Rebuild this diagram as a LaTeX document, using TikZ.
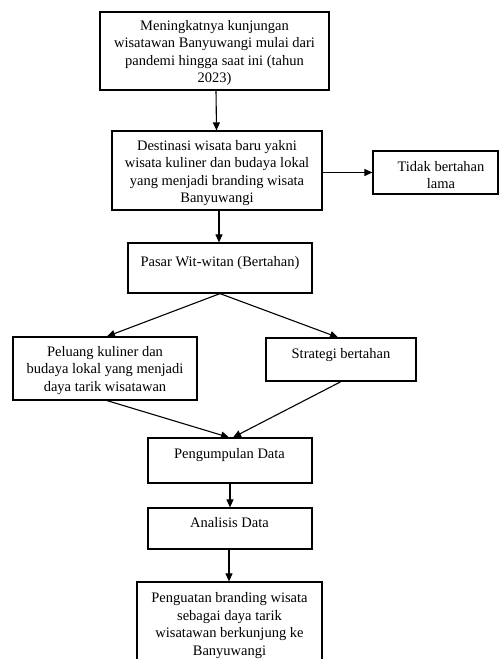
\documentclass[tikz,border=0pt]{standalone}
\usepackage{fontspec}
\setmainfont{Liberation Serif}
\usetikzlibrary{arrows.meta}
\begin{document}
\begin{tikzpicture}[x=1pt,y=-1pt,
  box/.style={draw,line width=1.2pt,inner sep=0pt},
  txt/.style={align=center,font=\fontsize{14.5}{17.4}\selectfont,inner sep=0pt},
  arr/.style={line width=1.1pt,-{Triangle[length=8pt,width=7pt]}}]
\useasboundingbox (0,0) rectangle (499,659);
\fill[white] (0,0) rectangle (499,659);
% boxes
\node[box,minimum width=229pt,minimum height=78pt] (b1) at (214.5,51) {};
\node[box,minimum width=210pt,minimum height=79pt] (b2) at (217,170.5) {};
\node[box,minimum width=125pt,minimum height=43pt] (b3) at (435.5,172.5) {};
\node[box,minimum width=184pt,minimum height=50pt] (b4) at (220,268) {};
\node[box,minimum width=184pt,minimum height=63pt] (b5) at (105,368.5) {};
\node[box,minimum width=150pt,minimum height=43pt] (b6) at (341,359.5) {};
\node[box,minimum width=164pt,minimum height=45pt] (b7) at (230,460.5) {};
\node[box,minimum width=164pt,minimum height=41pt] (b8) at (230,528.5) {};
\node[box,minimum width=185pt,minimum height=88pt] (b9) at (229.5,626) {};
% texts
\node[txt] (t1) at (214.5,53) {Meningkatnya kunjungan\\wisatawan Banyuwangi mulai dari\\pandemi hingga saat ini (tahun\\2023)};
\node[txt] (t2) at (217,173) {Destinasi wisata baru yakni\\wisata kuliner dan budaya lokal\\yang menjadi branding wisata\\Banyuwangi};
\node[txt] (t3) at (441,175) {Tidak bertahan\\lama};
\node[txt] (t4) at (220,263) {Pasar Wit-witan (Bertahan)};
\node[txt] (t5) at (105,370.5) {Peluang kuliner dan\\budaya lokal yang menjadi\\daya tarik wisatawan};
\node[txt] (t6) at (341,355) {Strategi bertahan};
\node[txt] (t7) at (229.5,455) {Pengumpulan Data};
\node[txt] (t8) at (229.5,523) {Analisis Data};
\node[txt] (t9) at (229.5,625.5) {Penguatan branding wisata\\sebagai daya tarik\\wisatawan berkunjung ke\\Banyuwangi};
% arrows
\draw[arr] ([xshift=1.5pt]b1.south) -- ([xshift=-0.5pt]b2.north);
\draw[arr] (b2.east |- b3.west) -- (b3.west);
\draw[arr] ([xshift=2pt]b2.south) -- ([xshift=2pt]b2.south |- b4.north);
\draw[arr] (b4.south) -- ([xshift=2pt]b5.north);
\draw[arr] (b4.south) -- ([xshift=-3pt]b6.north);
\draw[arr] ([xshift=2pt]b5.south) -- ([xshift=-1pt]b7.north);
\draw[arr] (b6.south) -- ([xshift=3pt]b7.north);
\draw[arr] (b7.south) -- (b8.north);
\draw[arr] ([xshift=-1pt]b8.south) -- ([xshift=-1pt]b8.south |- b9.north);
\end{tikzpicture}
\end{document}
